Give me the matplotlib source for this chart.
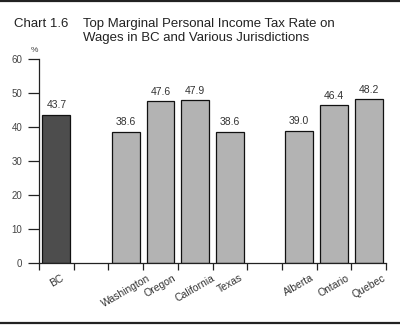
import matplotlib
matplotlib.use('Agg')
import numpy as np
from matplotlib import pyplot as plt
from matplotlib.lines import Line2D

# data
groups = [['BC'],
          ['Washington', 'Oregon', 'California', 'Texas'],
          ['Alberta', 'Ontario', 'Quebec']]
rates = [43.7, 38.6, 47.6, 47.9, 38.6, 39.0, 46.4, 48.2]
value_labels = ['43.7', '38.6', '47.6', '47.9', '38.6', '39.0', '46.4', '48.2']
yticks = [0, 10, 20, 30, 40, 50, 60]

if __name__ == '__main__':
    plt.rcParams['font.family'] = ['Liberation Sans', 'DejaVu Sans']

    # slot positions: one empty slot between groups
    names, pos = [], []
    x = 0
    for g in groups:
        for n in g:
            names.append(n)
            pos.append(x)
            x += 1
        x += 1
    nslots = x - 1

    fig = plt.figure(figsize=(4.0, 3.25), dpi=100)
    ax = fig.add_axes([0.0975, 0.19, 0.8675, 0.628])

    colors = ['#4d4d4d'] + ['#b3b3b3'] * (len(names) - 1)
    ax.bar(pos, rates, width=0.8, color=colors, edgecolor='#111111', linewidth=0.9, zorder=2)

    for p, r, t in zip(pos, rates, value_labels):
        ax.text(p, r + 1.4, t, ha='center', va='bottom', fontsize=7.5, color='#333333')

    ax.set_xlim(-0.5, nslots - 0.5)
    ax.set_ylim(0, 60)
    ax.set_yticks(yticks)
    ax.set_yticklabels([str(v) for v in yticks], fontsize=7, color='#444444')
    ax.set_xticks(np.arange(-0.5, nslots, 1.0))
    ax.set_xticklabels([])
    ax.tick_params(axis='y', length=8, width=0.9, pad=4, color='#222222')
    ax.tick_params(axis='x', length=5, width=0.9, color='#222222')

    for s in ['top', 'right']:
        ax.spines[s].set_visible(False)
    ax.spines['left'].set_linewidth(0.9)
    ax.spines['bottom'].set_linewidth(0.9)
    ax.spines['left'].set_color('#222222')
    ax.spines['bottom'].set_color('#222222')

    for p, n in zip(pos, names):
        ax.text(p, -2.8, n, ha='center', va='top', rotation=30, fontsize=7.5,
                color='#333333', transform=ax.transData)

    ax.text(-0.62, 61.5, '%', ha='center', va='bottom', fontsize=6, color='#444444')

    fig.text(0.035, 0.917, 'Chart 1.6', fontsize=9.5, color='#222222', va='baseline')
    fig.text(0.2075, 0.917, 'Top Marginal Personal Income Tax Rate on', fontsize=9.5,
             color='#222222', va='baseline')
    fig.text(0.2075, 0.873, 'Wages in BC and Various Jurisdictions', fontsize=9.5,
             color='#222222', va='baseline')

    fig.add_artist(Line2D([0, 1], [0.997, 0.997], color='#222222', linewidth=1.6))
    fig.add_artist(Line2D([0, 1], [0.005, 0.005], color='#222222', linewidth=1.6))

    fig.savefig('out.png', dpi=100)
